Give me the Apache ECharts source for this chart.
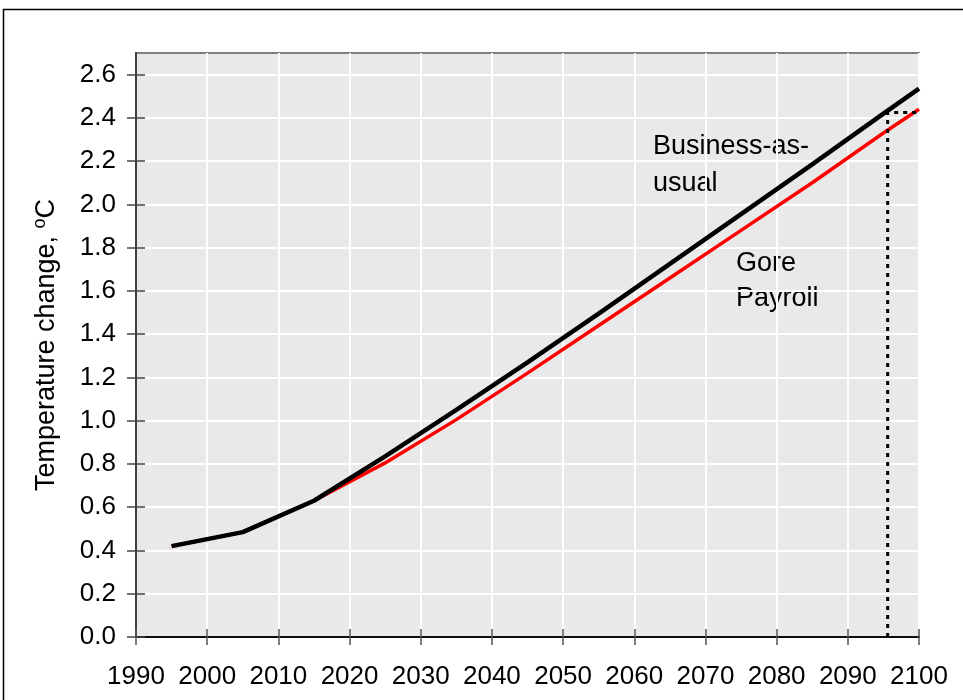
<!DOCTYPE html>
<html>
<head>
<meta charset="utf-8">
<script src="https://cdn.jsdelivr.net/npm/echarts@6/dist/echarts.min.js"></script>
<style>html,body{margin:0;padding:0;background:#fff}#c{width:963px;height:700px}</style>
</head>
<body>
<div id="c"></div>
<script>
const years = [1995, 2005, 2015, 2025, 2035, 2045, 2055, 2065, 2075, 2085, 2095, 2100];
const businessAsUsual = [0.42, 0.485, 0.63, 0.835, 1.05, 1.27, 1.495, 1.725, 1.955, 2.185, 2.42, 2.535];
const gorePayroll = [0.42, 0.485, 0.63, 0.805, 1.005, 1.22, 1.44, 1.66, 1.88, 2.10, 2.33, 2.44];
const markerX = [2095.6, 2095.6, 2100];
const markerY = [0, 2.425, 2.425];
const yTicks = [0, 0.2, 0.4, 0.6, 0.8, 1.0, 1.2, 1.4, 1.6, 1.8, 2.0, 2.2, 2.4, 2.6];
const xTicks = [1990, 2000, 2010, 2020, 2030, 2040, 2050, 2060, 2070, 2080, 2090, 2100];

const FONT = '"Liberation Sans", Arial, sans-serif';
const pair = (xs, ys) => xs.map((x, i) => [x, ys[i]]);

const chart = echarts.init(document.getElementById('c'), null, {renderer: 'canvas'});
const xBase = {
  type: 'value', min: 1990, max: 2100, interval: 10, position: 'bottom',
  axisLine: {show: true, lineStyle: {color: '#000', width: 1.5}}
};
const yBase = {
  type: 'value', min: 0, max: 2.7, interval: 0.2, position: 'left',
  axisLine: {show: true, lineStyle: {color: '#000', width: 1.5}}
};
chart.setOption({
  animation: false,
  backgroundColor: '#fff',
  grid: {left: 136, right: 44, top: 53, bottom: 63, show: true, backgroundColor: '#e9e9e9', borderColor: '#808080', borderWidth: 2},
  xAxis: [
    Object.assign({}, xBase, {
      axisTick: {show: true, inside: true, length: 8, lineStyle: {color: '#555', width: 1.5}},
      axisLabel: {show: true, margin: 27, fontSize: 26, color: '#000', fontFamily: FONT,
        customValues: xTicks, formatter: v => String(v)},
      splitLine: {show: true, lineStyle: {color: '#fff', width: 2}}
    }),
    Object.assign({}, xBase, {
      axisTick: {show: true, inside: false, length: 8, lineStyle: {color: '#555', width: 1.5}},
      axisLabel: {show: false},
      splitLine: {show: false}
    })
  ],
  yAxis: [
    Object.assign({}, yBase, {
      name: '{a|Temperature change, }{s|o}{a|C}',
      nameLocation: 'middle', nameGap: 73, nameRotate: 90,
      nameTextStyle: {fontFamily: FONT, color: '#000', rich: {
        a: {fontSize: 27, fontFamily: FONT, color: '#000', lineHeight: 32},
        s: {fontSize: 18, fontFamily: FONT, color: '#000', verticalAlign: 'top', lineHeight: 32, padding: [0, 0, 13, 0]}
      }},
      axisTick: {show: true, inside: false, length: 9, customValues: yTicks, lineStyle: {color: '#444', width: 1.5}},
      axisLabel: {show: true, margin: 20, fontSize: 26, color: '#000', fontFamily: FONT,
        customValues: yTicks, formatter: v => v.toFixed(1)},
      splitLine: {show: true, lineStyle: {color: '#fff', width: 2}}
    }),
    Object.assign({}, yBase, {
      axisLine: {show: false},
      axisTick: {show: true, inside: true, length: 9, customValues: yTicks, lineStyle: {color: '#444', width: 1.5}},
      axisLabel: {show: false},
      splitLine: {show: false}
    })
  ],
  series: [
    {type: 'line', name: 'Gore Payroll', data: pair(years, gorePayroll), showSymbol: false,
      lineStyle: {color: '#ff0000', width: 3.5}, z: 3},
    {type: 'line', name: 'Business-as-usual', data: pair(years, businessAsUsual), showSymbol: false,
      lineStyle: {color: '#000', width: 4.5}, z: 4},
    {type: 'line', name: 'marker', data: pair(markerX, markerY), showSymbol: false,
      lineStyle: {color: '#000', width: 3, type: [4, 5]}, z: 5}
  ],
  graphic: [
    {type: 'rect', shape: {x: 3.5, y: 9.5, width: 1000, height: 1000}, style: {fill: 'none', stroke: '#000', lineWidth: 1.5}, silent: true},
    {type: 'text', left: 653, top: 133, style: {text: 'Business-as-', font: '27px ' + FONT, fill: '#000'}},
    {type: 'text', left: 653, top: 170, style: {text: 'usual', font: '27px ' + FONT, fill: '#000'}},
    {type: 'text', left: 736, top: 250, style: {text: 'Gore', font: '27px ' + FONT, fill: '#000'}},
    {type: 'text', left: 736, top: 285, style: {text: 'Payroll', font: '27px ' + FONT, fill: '#000'}}
  ]
});
</script>
</body>
</html>
